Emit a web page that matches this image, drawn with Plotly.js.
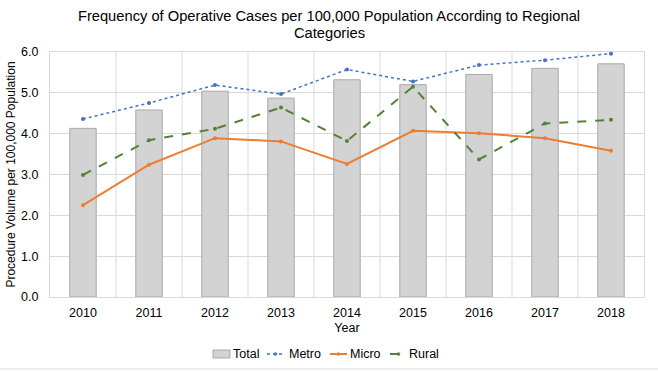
<!DOCTYPE html>
<html>
<head>
<meta charset="utf-8">
<script src="https://cdn.plot.ly/plotly-3.0.1.min.js"></script>
<style>html,body{margin:0;padding:0;background:#fff;}#chart{width:658px;height:371px;}</style>
</head>
<body>
<div id="chart"></div>
<script>
const years = ["2010","2011","2012","2013","2014","2015","2016","2017","2018"];
const total = [4.13, 4.58, 5.04, 4.87, 5.32, 5.20, 5.45, 5.60, 5.71];
const metro = [4.36, 4.75, 5.19, 4.97, 5.57, 5.28, 5.68, 5.80, 5.96];
const micro = [2.25, 3.24, 3.89, 3.81, 3.26, 4.07, 4.01, 3.89, 3.58];
const rural = [2.99, 3.84, 4.12, 4.64, 3.82, 5.15, 3.37, 4.25, 4.34];
const yTicks = [0, 1, 2, 3, 4, 5, 6];
const seriesNames = ["Total", "Metro", "Micro", "Rural"];
const titleLine1 = "Frequency of Operative Cases per 100,000 Population According to Regional";
const titleLine2 = "Categories";

const font = "Liberation Sans, Arial, Helvetica, sans-serif";
const colors = {Metro:"#4472c4", Micro:"#ed7d31", Rural:"#548235"};
const W = 658, H = 371, ML = 50, MR = 14, MT = 52, MB = 74;
const PW = W - ML - MR, PH = H - MT - MB;
const px = x => (x - ML) / PW;
const py = y => (H - MB - y) / PH;

const traces = [
  {type:"bar", name:seriesNames[0], x:years, y:total, width:0.4,
   marker:{color:"#d3d3d3", line:{color:"#a9a9a9", width:1}}},
  {type:"scatter", mode:"lines+markers", name:seriesNames[1], x:years, y:metro,
   line:{color:colors.Metro, width:1.5, dash:"dot"}, marker:{size:4, color:colors.Metro}},
  {type:"scatter", mode:"lines+markers", name:seriesNames[2], x:years, y:micro,
   line:{color:colors.Micro, width:2}, marker:{size:4, color:colors.Micro}},
  {type:"scatter", mode:"lines+markers", name:seriesNames[3], x:years, y:rural,
   line:{color:colors.Rural, width:2, dash:"dash"}, marker:{size:4, color:colors.Rural}}
];

// custom compact legend (Excel style)
const legY = 354;
const legItems = [
  {name:seriesNames[0], sx:213, tx:231},
  {name:seriesNames[1], sx:267, tx:287},
  {name:seriesNames[2], sx:330, tx:348},
  {name:seriesNames[3], sx:390, tx:407}
];
const legShapes = [];
const legAnn = [];
legItems.forEach(it => {
  if (it.name === "Total") {
    legShapes.push({type:"rect", xref:"paper", yref:"paper",
      x0:px(it.sx), x1:px(it.sx+17), y0:py(legY+4), y1:py(legY-4),
      fillcolor:"#d3d3d3", line:{color:"#a9a9a9", width:1}});
  } else {
    const c = colors[it.name];
    const dash = it.name === "Metro" ? "dot" : (it.name === "Rural" ? "dash" : "solid");
    legShapes.push({type:"line", xref:"paper", yref:"paper",
      x0:px(it.sx), x1:px(it.sx+17), y0:py(legY), y1:py(legY),
      line:{color:c, width:it.name === "Metro" ? 1.5 : 2, dash:dash}});
    legShapes.push({type:"circle", xref:"paper", yref:"paper",
      x0:px(it.sx+7), x1:px(it.sx+10), y0:py(legY+1.5), y1:py(legY-1.5),
      fillcolor:c, line:{color:c, width:0.5}});
  }
  legAnn.push({xref:"paper", yref:"paper", x:px(it.tx), y:py(legY), xanchor:"left", yanchor:"middle",
    text:it.name, showarrow:false, font:{size:12.5, color:"#000"}});
});
legAnn.push({xref:"paper", yref:"paper", x:px(W/2), y:py(33), xanchor:"center", yanchor:"middle",
  text:titleLine2, showarrow:false, font:{size:14.7, color:"#000"}});

const gridShapes = years.slice(0, years.length-1).map((y,i)=>({
  type:"line", xref:"x", yref:"paper", x0:i+0.5, x1:i+0.5, y0:0, y1:1,
  line:{color:"#d9d9d9", width:1}, layer:"below"}));

const layout = {
  width:W, height:H,
  margin:{l:ML, r:MR, t:MT, b:MB},
  paper_bgcolor:"#fff", plot_bgcolor:"#fff",
  font:{family:font, size:12.5, color:"#000"},
  title:{text:titleLine1,
         font:{size:14.7, color:"#000"}, x:0.5, xanchor:"center", xref:"container",
         y:1 - 15.5/H, yanchor:"middle", yref:"container", automargin:false},
  bargap:0.6,
  xaxis:{type:"category", showgrid:false, ticks:"", tickfont:{size:12.5}, automargin:false,
         ticklabelstandoff:4,
         title:{text:"Year", font:{size:12.5}, standoff:4},
         showline:true, linecolor:"#d9d9d9", mirror:true, fixedrange:true},
  yaxis:{range:[0,6], tickvals:yTicks, ticktext:yTicks.map(v=>v.toFixed(1)), automargin:false,
         showgrid:true, gridcolor:"#d9d9d9", gridwidth:1, zeroline:false,
         showline:true, linecolor:"#d9d9d9", mirror:true, ticks:"", ticklen:0,
         ticklabelstandoff:8, tickfont:{size:12.5},
         title:{text:"Procedure Volume per 100,000 Population", font:{size:12}, standoff:2}},
  shapes: gridShapes.concat(legShapes).concat([
    {type:"line", xref:"paper", yref:"paper", x0:px(0), x1:px(W), y0:py(369), y1:py(369),
     line:{color:"#d9d9d9", width:1}}
  ]),
  annotations: legAnn,
  showlegend:false
};
Plotly.newPlot("chart", traces, layout, {displayModeBar:false, staticPlot:true});
</script>
</body>
</html>
